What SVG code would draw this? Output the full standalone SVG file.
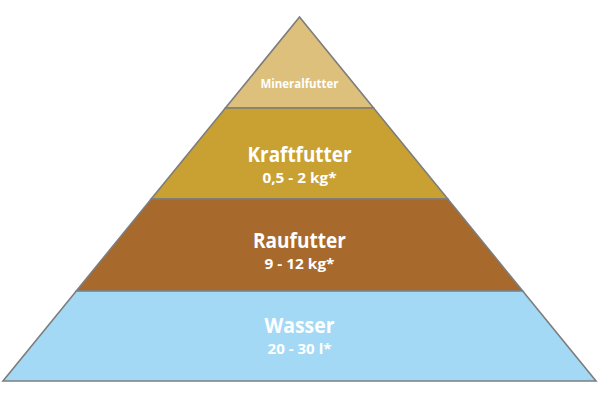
<svg xmlns="http://www.w3.org/2000/svg" width="600" height="400" viewBox="0 0 600 400">
<style>
.l{stroke:#7d7d7d;stroke-width:1.6;stroke-linejoin:miter}
text{font-family:"Open Sans","Liberation Sans",sans-serif;fill:#fff;font-weight:bold;text-anchor:middle}
.t{font-size:21px}.s{font-size:14px}
</style>
<rect width="600" height="400" fill="#fff"/>
<g id="mineralfutter"><polygon class="l" fill="#dcc07c" points="299.5,17 373.6,108 225.4,108"/><text x="299.5" y="88" style="font-size:13px" textLength="78" lengthAdjust="spacingAndGlyphs">Mineralfutter</text></g>
<g id="kraftfutter"><polygon class="l" fill="#c9a133" points="225.4,108 373.6,108 447.8,199 151.2,199"/><text class="t" x="299.5" y="162" textLength="104" lengthAdjust="spacingAndGlyphs">Kraftfutter</text><text class="s" x="299.5" y="183" textLength="74" lengthAdjust="spacingAndGlyphs">0,5 - 2 kg*</text></g>
<g id="raufutter"><polygon class="l" fill="#a8692c" points="151.2,199 447.8,199 522.7,291 76.3,291"/><text class="t" x="299.5" y="248" textLength="93" lengthAdjust="spacingAndGlyphs">Raufutter</text><text class="s" x="299.5" y="269" textLength="70" lengthAdjust="spacingAndGlyphs">9 - 12 kg*</text></g>
<g id="wasser"><polygon class="l" fill="#a3d9f5" points="76.3,291 522.7,291 596,381 3,381"/><text class="t" x="299.5" y="333" textLength="70" lengthAdjust="spacingAndGlyphs">Wasser</text><text class="s" x="299.5" y="354" textLength="64" lengthAdjust="spacingAndGlyphs">20 - 30 l*</text></g>
<g id="connectors"/>
</svg>
